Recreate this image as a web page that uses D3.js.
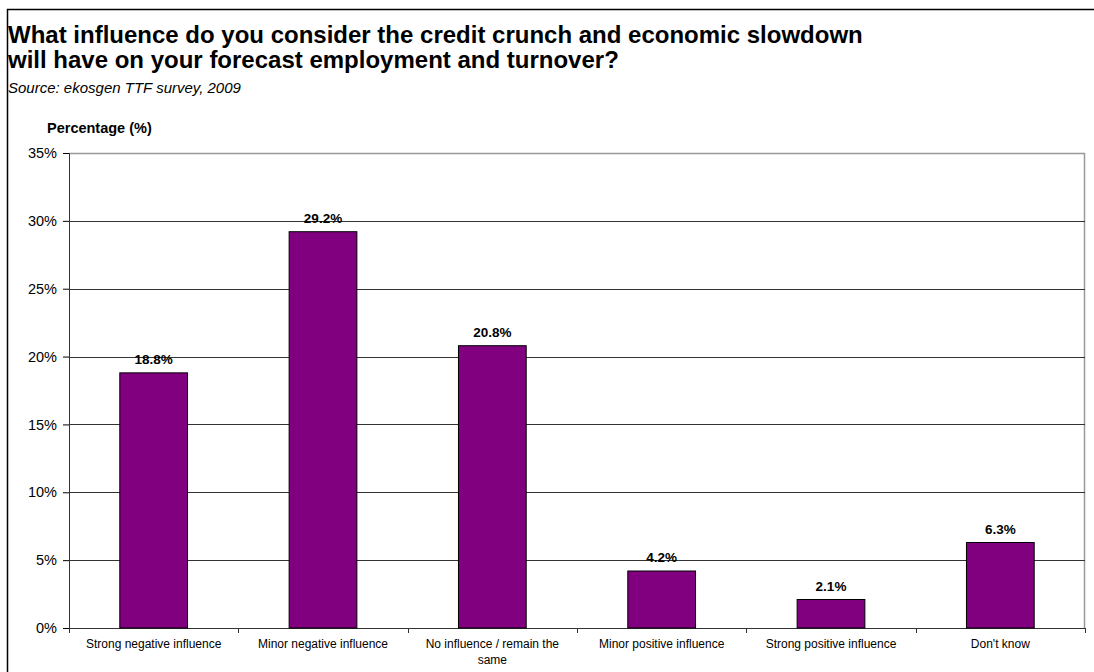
<!DOCTYPE html>
<html>
<head>
<meta charset="utf-8">
<script src="https://cdn.jsdelivr.net/npm/d3@7"></script>
<style>
  body { margin: 0; background: #fff; }
  svg { font-family: "Liberation Sans", Arial, sans-serif; }
</style>
</head>
<body>
<svg id="chart" width="1094" height="672"></svg>
<script>
// data
const categories = [
  "Strong negative influence",
  "Minor negative influence",
  "No influence / remain the same",
  "Minor positive influence",
  "Strong positive influence",
  "Don't know"
];
const values = [18.8, 29.2, 20.8, 4.2, 2.1, 6.3];
const yTicks = [0, 5, 10, 15, 20, 25, 30, 35];

const svg = d3.select("#chart"),
  width = +svg.attr("width"),
  height = +svg.attr("height");

const margin = { top: 153, right: 9, bottom: 44, left: 69 };
const chartWidth = width - margin.left - margin.right;
const chartHeight = height - margin.top - margin.bottom;

// outer frame
svg.append("path")
  .attr("d", `M7.5,${height} V9.5 H${width}`)
  .attr("fill", "none")
  .attr("stroke", "#000")
  .attr("stroke-width", 1.5);

svg.append("text")
  .attr("x", 8).attr("y", 43)
  .attr("font-size", 24).attr("font-weight", "bold")
  .text("What influence do you consider the credit crunch and economic slowdown");
svg.append("text")
  .attr("x", 8).attr("y", 68)
  .attr("font-size", 24).attr("font-weight", "bold")
  .text("will have on your forecast employment and turnover?");
svg.append("text")
  .attr("x", 8).attr("y", 93)
  .attr("font-size", 15).attr("font-style", "italic")
  .text("Source: ekosgen TTF survey, 2009");
svg.append("text")
  .attr("x", 47).attr("y", 133)
  .attr("font-size", 14.5).attr("font-weight", "bold")
  .text("Percentage (%)");

const x = d3.scaleBand()
  .domain(categories)
  .range([0, chartWidth])
  .paddingInner(0.6)
  .paddingOuter(0.3);

const y = d3.scaleLinear().domain([0, 35]).range([chartHeight, 0]);

const g = svg.append("g").attr("transform", `translate(${margin.left},${margin.top})`);

// plot frame (top and right)
g.append("path")
  .attr("d", `M0,0.5 H${chartWidth - 0.5} V${chartHeight}`)
  .attr("fill", "none")
  .attr("stroke", "#999")
  .attr("stroke-width", 1.5);

// gridlines
g.selectAll(".grid")
  .data(yTicks.filter(d => d > 0 && d < 35))
  .enter()
  .append("line")
  .attr("x1", 0).attr("x2", chartWidth)
  .attr("y1", d => Math.round(y(d)) + 0.5)
  .attr("y2", d => Math.round(y(d)) + 0.5)
  .attr("stroke", "#333");

// y axis
const yAxis = g.append("g")
  .call(d3.axisLeft(y).tickValues(yTicks).tickSize(6).tickPadding(6).tickFormat(d => d + "%"));
yAxis.selectAll("text").attr("font-size", 14.5).attr("font-family", "Liberation Sans, Arial, sans-serif").attr("fill", "#000");
yAxis.select(".domain").attr("stroke", "#333");

// x axis with ticks at band boundaries
const xAxis = g.append("g").attr("transform", `translate(0,${chartHeight})`);
xAxis.append("line")
  .attr("x1", 0).attr("x2", chartWidth)
  .attr("y1", 0.5).attr("y2", 0.5)
  .attr("stroke", "#333");
xAxis.selectAll(".tick")
  .data(d3.range(categories.length + 1))
  .enter()
  .append("line")
  .attr("x1", i => Math.round(i * chartWidth / categories.length) + 0.5)
  .attr("x2", i => Math.round(i * chartWidth / categories.length) + 0.5)
  .attr("y1", 0).attr("y2", 5)
  .attr("stroke", "#333");

const labelLines = d => d === "No influence / remain the same" ? ["No influence / remain the", "same"] : [d];
xAxis.selectAll(".xlabel")
  .data(categories)
  .enter()
  .append("text")
  .attr("text-anchor", "middle")
  .attr("font-size", 12)
  .attr("transform", d => `translate(${x(d) + x.bandwidth() / 2},20)`)
  .each(function (d) {
    d3.select(this).selectAll("tspan")
      .data(labelLines(d))
      .enter()
      .append("tspan")
      .attr("x", 0)
      .attr("dy", (t, i) => i === 0 ? 0 : 16)
      .text(t => t);
  });

// bars
g.selectAll(".bar")
  .data(values)
  .enter()
  .append("rect")
  .attr("x", (d, i) => x(categories[i]))
  .attr("y", d => y(d))
  .attr("width", x.bandwidth())
  .attr("height", d => chartHeight - y(d))
  .attr("fill", "#800080")
  .attr("stroke", "#000")
  .attr("stroke-width", 1);

// value labels
g.selectAll(".val")
  .data(values)
  .enter()
  .append("text")
  .attr("x", (d, i) => x(categories[i]) + x.bandwidth() / 2)
  .attr("y", d => y(d) - 9)
  .attr("text-anchor", "middle")
  .attr("font-size", 13.5)
  .attr("font-weight", "bold")
  .text(d => d.toFixed(1) + "%");
</script>
</body>
</html>
